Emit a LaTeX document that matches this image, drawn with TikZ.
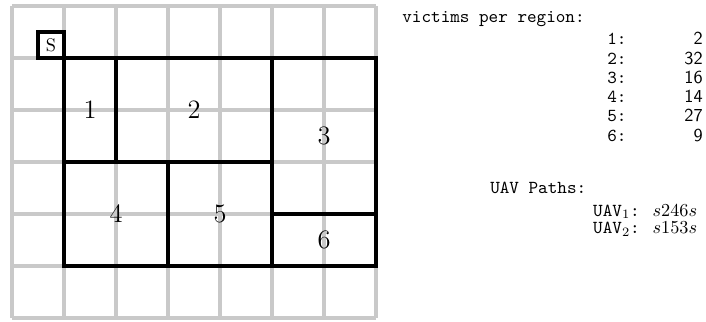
\documentclass[tikz,border=0pt]{standalone}
\begin{document}
\begin{tikzpicture}[x=1cm,y=1cm,
  gridline/.style={draw=black!21, line width=1.8pt},
  region/.style={draw=black, line width=2.5pt, line join=miter},
  rlabel/.style={font=\fontsize{14.5}{17}\selectfont, inner sep=0pt},
  txt/.style={font=\ttfamily\fontsize{10}{12}\selectfont, inner sep=0pt},
  val/.style={font=\sffamily\fontsize{10}{12}\selectfont, inner sep=0pt, anchor=base east}]
\useasboundingbox (-0.231,-0.077) rectangle (13.346,6.115);
% grid
\foreach \x in {0,...,7} \draw[gridline] (\x,0) -- (\x,6);
\foreach \y in {0,...,6} \draw[gridline] (0,\y) -- (7,\y);
% regions
\draw[region] (1,3) rectangle (2,5);
\draw[region] (2,3) rectangle (5,5);
\draw[region] (5,2) rectangle (7,5);
\draw[region] (1,1) rectangle (3,3);
\draw[region] (3,1) rectangle (5,3);
\draw[region] (5,1) rectangle (7,2);
\node[rlabel] (r1) at (1.5,4) {1};
\node[rlabel] (r2) at (3.5,4) {2};
\node[rlabel] (r3) at (6,3.5) {3};
\node[rlabel] (r4) at (2,2) {4};
\node[rlabel] (r5) at (4,2) {5};
\node[rlabel] (r6) at (6,1.5) {6};
% start
\node[draw=black, line width=2.2pt, fill=white, minimum size=0.5cm, inner sep=0pt,
      font=\fontsize{10}{12}\selectfont] (s) at (0.75,5.25) {S};
% right text
\node[txt, anchor=base west] (hdr) at (7.5,5.69) {victims per region:};
\foreach \i/\v [count=\k from 0] in {1/2,2/32,3/16,4/14,5/27,6/9} {
  \node[txt, anchor=base west] (k\i) at (11.44,5.25-0.37*\k) {\i:};
  \node[val] (v\i) at (13.29,5.25-0.37*\k) {\v};
}
\node[txt, anchor=base west] (uav) at (9.19,2.385) {UAV Paths:};
\node[txt, anchor=base west] (u1) at (11.17,1.96) {UAV$_1$: $s246s$};
\node[txt, anchor=base west] (u2) at (11.17,1.615) {UAV$_2$: $s153s$};
\end{tikzpicture}
\end{document}
